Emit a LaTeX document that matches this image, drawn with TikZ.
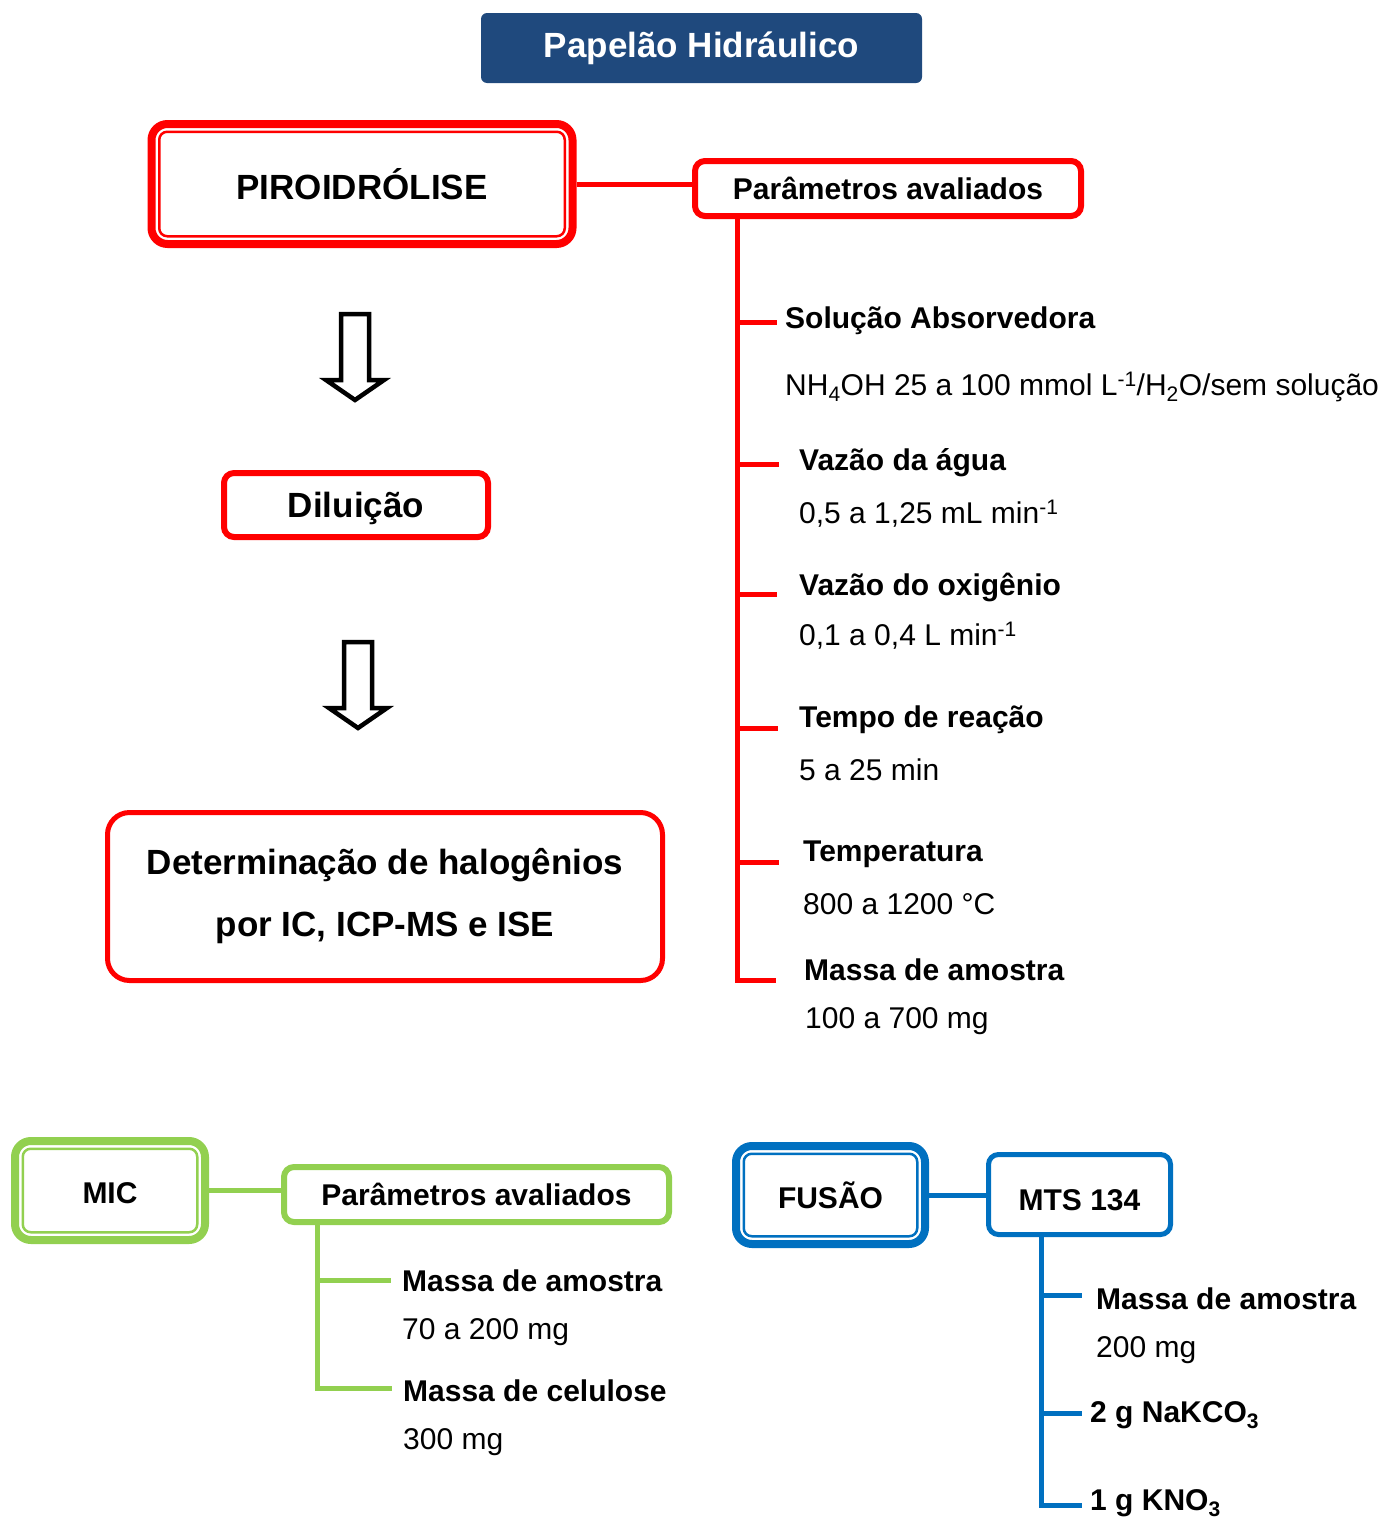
\documentclass[tikz,border=0pt]{standalone}
\usepackage{fontspec}
\setmainfont{Liberation Sans}
\usetikzlibrary{positioning}
\definecolor{hidblue}{RGB}{31,73,125}
\definecolor{pirored}{RGB}{255,0,0}
\definecolor{micgreen}{RGB}{146,208,80}
\definecolor{fusblue}{RGB}{0,112,192}
\newcommand{\innerframe}[2]{\draw[#2, line width=2.5pt, rounded corners=8pt] ([shift={(11.75pt,11.75pt)}]#1.south west) rectangle ([shift={(-11.75pt,-11.75pt)}]#1.north east);}
\newcommand{\hollowdown}[1]{\draw[line width=4.5pt, miter limit=10] (#1) ++(-14,0) -- ++(28,0) -- ++(0,66) -- ++(15,0) -- ++(-29,20) -- ++(-29,-20) -- ++(15,0) -- cycle;}
\newcommand{\droptext}[2]{\raisebox{-#1}[\height][\depth]{#2}}

\begin{document}
\begin{tikzpicture}[x=1pt, y=-1pt,
  title/.style={fill=hidblue, text=white, rounded corners=6pt, minimum width=441pt, minimum height=70pt, font=\fontsize{35}{42}\selectfont\bfseries},
  dblbox/.style={draw=#1, line width=8pt, rounded corners=16pt, align=center},
  stepbox/.style={draw=#1, line width=6pt, rounded corners=10pt, align=center},
  big/.style={font=\fontsize{35}{42}\selectfont\bfseries},
  mid/.style={font=\fontsize{30}{36}\selectfont\bfseries},
  head/.style={font=\fontsize{30}{36}\selectfont\bfseries, anchor=west, inner sep=0pt},
  val/.style={font=\fontsize{30}{36}\selectfont, anchor=west, inner sep=0pt},
  branch/.style={draw=#1, line width=5pt}
]
  \useasboundingbox (0,0) rectangle (1380,1521);

  \node[title] (titulo) at (701.5,48) {Papelão Hidráulico};

  \node[dblbox=pirored, big, minimum width=421pt, minimum height=120pt] (piro) at (362,184) {PIROIDRÓLISE};
  \innerframe{piro}{pirored}
  \node[stepbox=pirored, mid, minimum width=386pt, minimum height=55pt] (parr) at (888,188.5) {Parâmetros avaliados};
  \node[stepbox=pirored, big, minimum width=264pt, minimum height=64pt] (dil) at (356,505) {\droptext{3pt}{Diluição}};
  \node[stepbox=pirored, font=\fontsize{35}{62}\selectfont\bfseries, line width=5pt, rounded corners=22pt, minimum width=555pt, minimum height=168pt] (det) at (385,896.5) {Determinação de halogênios\\por IC, ICP-MS e ISE};

  \coordinate (arrA) at (355,314);
  \coordinate (arrB) at (358,642);
  \hollowdown{arrA}
  \hollowdown{arrB}

  \draw[branch=pirored] (piro.east) -- (piro.east -| parr.west);
  \coordinate (rtop) at ([xshift=45pt]parr.south west);
  \coordinate (rb1) at (777,322);
  \coordinate (rb2) at (779,464);
  \coordinate (rb3) at (777,594);
  \coordinate (rb4) at (778,728);
  \coordinate (rb5) at (779,862);
  \coordinate (rb6) at (776,980);
  \draw[branch=pirored] (rtop) |- (rb6);
  \foreach \c in {rb1,rb2,rb3,rb4,rb5}
    \draw[branch=pirored] (rtop |- \c) -- (\c);

  \node[head] (sol) at (785,321) {Solução Absorvedora};
  \node[val] (solv) at (785,387) {NH\textsubscript{4}OH 25 a 100 mmol L\textsuperscript{-1}/H\textsubscript{2}O/sem solução};
  \node[head] (agua) at (799,463) {Vazão da água};
  \node[val] (aguav) at (799,514) {0,5 a 1,25 mL min\textsuperscript{-1}};
  \node[head] (oxi) at (799,587) {Vazão do oxigênio};
  \node[val] (oxiv) at (799,636) {0,1 a 0,4 L min\textsuperscript{-1}};
  \node[head] (tempo) at (799,720) {Tempo de reação};
  \node[val] (tempov) at (799,770) {5 a 25 min};
  \node[head] (temp) at (803,854) {Temperatura};
  \node[val] (tempv) at (803,904) {800 a 1200 °C};
  \node[head] (massa) at (804,970) {Massa de amostra};
  \node[val] (massav) at (805,1021) {100 a 700 mg};

  \node[dblbox=micgreen, mid, minimum width=190pt, minimum height=99pt] (mic) at (110,1190.5) {\droptext{3pt}{MIC}};
  \innerframe{mic}{micgreen}
  \node[stepbox=micgreen, mid, minimum width=385pt, minimum height=55pt] (parg) at (476.5,1194.5) {Parâmetros avaliados};
  \draw[branch=micgreen] (mic.east) -- (mic.east -| parg.west);
  \coordinate (gtop) at ([xshift=36pt]parg.south west);
  \coordinate (gb1) at (391,1280);
  \coordinate (gb2) at (392,1388);
  \draw[branch=micgreen] (gtop) |- (gb2);
  \draw[branch=micgreen] (gtop |- gb1) -- (gb1);
  \node[head] (micmassa) at (402,1281) {Massa de amostra};
  \node[val] (micmassav) at (402,1332) {70 a 200 mg};
  \node[head] (celu) at (403,1391) {Massa de celulose};
  \node[val] (celuv) at (403,1442) {300 mg};

  \node[dblbox=fusblue, mid, minimum width=189pt, minimum height=98pt] (fus) at (830.5,1195) {FUSÃO};
  \innerframe{fus}{fusblue}
  \node[stepbox=fusblue, mid, line width=5pt, minimum width=182pt, minimum height=80pt] (mts) at (1079.5,1194.5) {\droptext{6pt}{MTS 134}};
  \draw[branch=fusblue] (fus.east) -- (fus.east -| mts.west);
  \coordinate (btop) at ([xshift=55.5pt]mts.south west);
  \coordinate (bb1) at (1082,1295);
  \coordinate (bb2) at (1082,1413);
  \coordinate (bb3) at (1082,1505);
  \draw[branch=fusblue] (btop) |- (bb3);
  \foreach \c in {bb1,bb2}
    \draw[branch=fusblue] (btop |- \c) -- (\c);
  \node[head] (fusmassa) at (1096,1299) {Massa de amostra};
  \node[val] (fusmassav) at (1096,1350) {200 mg};
  \node[head] (nak) at (1090,1415) {2 g NaKCO\textsubscript{3}};
  \node[head] (kno) at (1090,1503) {1 g KNO\textsubscript{3}};
\end{tikzpicture}
\end{document}
